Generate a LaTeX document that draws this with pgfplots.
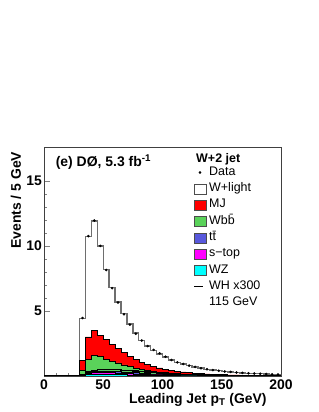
\documentclass[border=0pt]{standalone}
\usepackage{fontspec}
\setmainfont{Liberation Sans}
\usepackage{pgfplots}
\usepackage{pgfplotstable}
\pgfplotsset{compat=1.18}
\definecolor{mjred}{RGB}{255,0,0}
\definecolor{wbbgreen}{RGB}{90,210,90}
\definecolor{ttblue}{RGB}{88,88,220}
\definecolor{stmag}{RGB}{255,0,255}
\definecolor{wzcyan}{RGB}{0,255,255}
\definecolor{totgray}{RGB}{110,110,110}
% x = left bin edge (GeV), values in units of 10^3 events (cumulative stack)
\pgfplotstableread{
x   tot   mj    wbb   tt    st    wz    wh
0   0     0     0     0     0     0     0
5   0     0     0     0     0     0     0
10  0     0     0     0     0     0     0
15  0     0     0     0     0     0     0
20  0     0     0     0     0     0     0
25  0     0     0     0     0     0     0
30  4.40  1.20  0.45  0.12  0.09  0.05  0.10
35  10.70 3.00  1.30  0.30  0.22  0.12  0.30
40  11.90 3.50  1.60  0.38  0.27  0.15  0.42
45  10.00 3.15  1.50  0.40  0.28  0.16  0.48
50  8.20  2.80  1.30  0.40  0.27  0.15  0.50
55  6.80  2.45  1.15  0.38  0.26  0.14  0.50
60  5.70  2.10  1.00  0.35  0.23  0.12  0.48
65  4.80  1.80  0.85  0.32  0.20  0.10  0.45
70  4.00  1.50  0.72  0.28  0.18  0.09  0.42
75  3.30  1.25  0.60  0.25  0.15  0.07  0.38
80  2.75  1.05  0.50  0.22  0.13  0.06  0.34
85  2.30  0.90  0.42  0.19  0.11  0.05  0.30
90  1.97  0.75  0.36  0.16  0.09  0.04  0.26
95  1.70  0.62  0.30  0.14  0.08  0.035 0.23
100 1.46  0.52  0.25  0.12  0.07  0.03  0.20
105 1.24  0.44  0.21  0.10  0.06  0.025 0.17
110 1.06  0.37  0.18  0.09  0.05  0.02  0.15
115 0.92  0.31  0.15  0.08  0.045 0.018 0.13
120 0.80  0.26  0.13  0.07  0.04  0.015 0.11
125 0.69  0.22  0.11  0.06  0.035 0.013 0.09
130 0.60  0.19  0.095 0.05  0.03  0.011 0.08
135 0.52  0.16  0.08  0.045 0.025 0.01  0.07
140 0.46  0.14  0.07  0.04  0.022 0.009 0.06
145 0.40  0.12  0.06  0.035 0.02  0.008 0.05
150 0.35  0.10  0.05  0.03  0.017 0.007 0.04
155 0.31  0.09  0.045 0.026 0.015 0.006 0.035
160 0.27  0.08  0.04  0.023 0.013 0.005 0.03
165 0.24  0.07  0.035 0.02  0.011 0.005 0.025
170 0.21  0.06  0.03  0.018 0.01  0.004 0.02
175 0.19  0.05  0.027 0.016 0.009 0.004 0.018
180 0.17  0.045 0.024 0.014 0.008 0.003 0.015
185 0.15  0.04  0.021 0.012 0.007 0.003 0.012
190 0.13  0.035 0.018 0.011 0.006 0.003 0.01
195 0.12  0.03  0.016 0.01  0.005 0.002 0.008
200 0.12  0.03  0.016 0.01  0.005 0.002 0.008
}\stack
% data: bin centres, 10^3 events
\pgfplotstableread{
x     y
32.5  4.45
37.5  10.75
42.5  11.95
47.5  10.00
52.5  8.15
57.5  6.75
62.5  5.65
67.5  4.75
72.5  3.95
77.5  3.25
82.5  2.72
87.5  2.30
92.5  2.00
97.5  1.74
102.5 1.48
107.5 1.23
112.5 1.05
117.5 0.92
122.5 0.80
127.5 0.70
132.5 0.60
137.5 0.52
142.5 0.46
147.5 0.40
152.5 0.35
157.5 0.31
162.5 0.27
167.5 0.24
172.5 0.21
177.5 0.19
182.5 0.17
187.5 0.15
192.5 0.13
197.5 0.12
}\datatab
\begin{document}
\begin{tikzpicture}
\path[use as bounding box] (-44bp,-36bp) rectangle (275bp,376bp);
\begin{axis}[
  at={(0,0)}, anchor=south west,
  scale only axis, width=237bp, height=229bp,
  xmin=0, xmax=200, ymin=0, ymax=17.6,
  xtick={0,50,100,150,200}, ytick={5,10,15},
  minor x tick num=4, minor y tick num=4,
  xtick pos=bottom, ytick pos=left,
  tick align=inside, major tick length=6bp, minor tick length=3bp,
  axis line style={line width=0.5pt, black!75},
  /pgf/number format/assume math mode=true,
  tick label style={font=\fontsize{14}{16}\selectfont\bfseries},
  yticklabel style={xshift=1.5bp},
  xlabel={Leading Jet p\textsubscript{T} (GeV)},
  ylabel={Events / 5 GeV},
  label style={font=\fontsize{14}{16}\selectfont\bfseries},
  xlabel style={at={(axis description cs:0.94,-0.075)}, anchor=north east, inner sep=0pt},
  ylabel style={at={(axis description cs:-0.118,0.98)}, anchor=east, rotate=0, inner sep=0pt},
  legend style={draw=none, fill=none, at={(axis description cs:0.63,0.925)}, anchor=north west,
    font=\fontsize{12.5}{14}\selectfont, row sep=0pt, inner sep=0pt,
    nodes={inner sep=1bp, text height=10bp, text depth=4.3bp}},
  legend cell align=left,
]
% legend in the reference order
\addlegendimage{legend image code/.code={\fill (6bp,0bp) circle (1.1bp);}}
\addlegendentry{Data}
\addlegendimage{legend image code/.code={\draw[fill=white, draw=black!70] (0bp,-5bp) rectangle (12bp,5bp); \path (14bp,0bp);}}
\addlegendentry{W+light}
\addlegendimage{legend image code/.code={\draw[fill=mjred, draw=black!70] (0bp,-5bp) rectangle (12bp,5bp); \path (14bp,0bp);}}
\addlegendentry{MJ}
\addlegendimage{legend image code/.code={\draw[fill=wbbgreen, draw=black!70] (0bp,-5bp) rectangle (12bp,5bp); \path (14bp,0bp);}}
\addlegendentry{Wb\={b}}
\addlegendimage{legend image code/.code={\draw[fill=ttblue, draw=black!70] (0bp,-5bp) rectangle (12bp,5bp); \path (14bp,0bp);}}
\addlegendentry{t\={t}}
\addlegendimage{legend image code/.code={\draw[fill=stmag, draw=black!70] (0bp,-5bp) rectangle (12bp,5bp); \path (14bp,0bp);}}
\addlegendentry{s−top}
\addlegendimage{legend image code/.code={\draw[fill=wzcyan, draw=black!70] (0bp,-5bp) rectangle (12bp,5bp); \path (14bp,0bp);}}
\addlegendentry{WZ}
\addlegendimage{legend image code/.code={\draw[black, line width=1pt] (0bp,0bp) -- (9bp,0bp); \path (12bp,0bp);}}
\addlegendentry{WH x300}
\addlegendimage{empty legend}
\addlegendentry{115 GeV}
% stacked histograms (cumulative, drawn from the top down)
\addplot[const plot mark left, draw=totgray, line width=1.4pt, fill=white, forget plot] table[x=x, y=tot] {\stack} \closedcycle;
\addplot[const plot mark left, draw=black, line width=0.5pt, fill=mjred, forget plot] table[x=x, y=mj] {\stack} \closedcycle;
\addplot[const plot mark left, draw=black, line width=0.5pt, fill=wbbgreen, forget plot] table[x=x, y=wbb] {\stack} \closedcycle;
\addplot[const plot mark left, draw=black, line width=0.5pt, fill=ttblue, forget plot] table[x=x, y=tt] {\stack} \closedcycle;
\addplot[const plot mark left, draw=black, line width=0.5pt, fill=stmag, forget plot] table[x=x, y=st] {\stack} \closedcycle;
\addplot[const plot mark left, draw=black, line width=0.5pt, fill=wzcyan, forget plot] table[x=x, y=wz] {\stack} \closedcycle;
% signal
\addplot[const plot mark left, draw=black, line width=1.2pt, forget plot] table[x=x, y=wh] {\stack};
% data
\addplot[only marks, mark=*, mark size=1.1pt, black, forget plot] table[x=x, y=y] {\datatab};
\node[anchor=west, font=\fontsize{14}{16}\selectfont\bfseries] at (axis description cs:0.035,0.935) {(e) DØ, 5.3 fb\textsuperscript{-1}};
\node[font=\fontsize{12.5}{14}\selectfont\bfseries] at (axis description cs:0.735,0.948) {W+2 jet};
\node[anchor=south west, inner sep=0pt, font=\fontsize{12}{14}\selectfont] at (axis description cs:0,1.01) {×10\textsuperscript{3}};
\end{axis}
\end{tikzpicture}
\end{document}
